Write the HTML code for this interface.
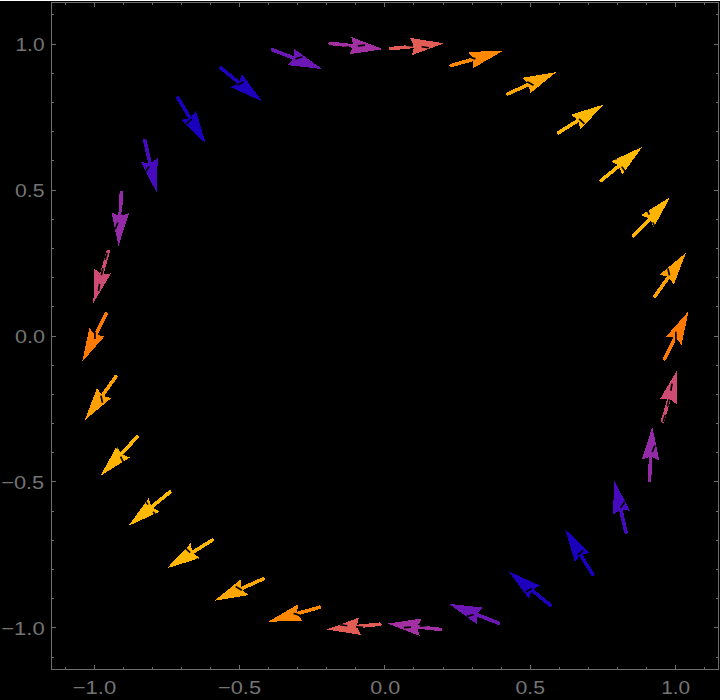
<!DOCTYPE html><html><head><meta charset="utf-8"><title>Vector plot</title><style>html,body{margin:0;padding:0;background:#000;font-family:"Liberation Sans",sans-serif;}svg{display:block}</style></head><body><svg width="720" height="700" viewBox="0 0 720 700">
<rect width="720" height="700" fill="#000"/>
<rect x="0" y="0" width="720" height="1" fill="#fff"/>
<g transform="translate(0.50,0.40)">
<g shape-rendering="crispEdges">
<line x1="664.22" y1="358.36" x2="675.18" y2="336.45" stroke="#ff7800" stroke-width="3.60" stroke-linecap="round"/>
<polygon points="688.10,310.60 680.99,344.27 674.73,337.34 665.43,336.49" fill="#ff7800"/>
<line x1="654.54" y1="295.67" x2="668.76" y2="275.72" stroke="#ffa000" stroke-width="3.60" stroke-linecap="round"/>
<polygon points="685.53,252.18 673.29,284.35 668.18,276.53 659.12,274.25" fill="#ffa000"/>
<line x1="633.11" y1="235.44" x2="649.94" y2="217.64" stroke="#ffb400" stroke-width="3.60" stroke-linecap="round"/>
<polygon points="669.79,196.63 653.24,226.81 649.25,218.36 640.60,214.86" fill="#ffb400"/>
<line x1="600.54" y1="180.22" x2="619.53" y2="164.74" stroke="#ffba00" stroke-width="3.60" stroke-linecap="round"/>
<polygon points="641.93,146.48 621.62,174.26 618.76,165.37 610.62,160.78" fill="#ffba00"/>
<line x1="558.04" y1="132.26" x2="578.86" y2="119.34" stroke="#ffb700" stroke-width="3.60" stroke-linecap="round"/>
<polygon points="603.41,104.10 579.71,129.05 578.01,119.87 570.53,114.27" fill="#ffb700"/>
<line x1="507.34" y1="93.43" x2="529.69" y2="83.41" stroke="#ffa600" stroke-width="3.60" stroke-linecap="round"/>
<polygon points="556.07,71.60 529.24,93.15 528.78,83.82 522.12,77.27" fill="#ffa600"/>
<line x1="450.59" y1="65.12" x2="474.19" y2="58.52" stroke="#ff8800" stroke-width="3.60" stroke-linecap="round"/>
<polygon points="502.02,50.74 472.29,68.08 473.22,58.79 467.61,51.33" fill="#ff8800"/>
<line x1="390.39" y1="48.18" x2="414.77" y2="45.75" stroke="#e25c56" stroke-width="3.60" stroke-linecap="round"/>
<polygon points="443.52,42.88 411.25,54.84 413.77,45.85 409.53,37.53" fill="#e25c56"/>
<line x1="329.69" y1="42.94" x2="354.04" y2="45.64" stroke="#a230a2" stroke-width="3.60" stroke-linecap="round"/>
<polygon points="382.76,48.83 348.71,53.81 353.04,45.53 350.62,36.51" fill="#a230a2"/>
<line x1="271.82" y1="49.34" x2="294.66" y2="58.21" stroke="#6c16b6" stroke-width="3.60" stroke-linecap="round"/>
<polygon points="321.61,68.66 287.42,64.73 293.73,57.84 293.71,48.50" fill="#6c16b6"/>
<line x1="220.24" y1="67.45" x2="239.26" y2="82.89" stroke="#1e00bc" stroke-width="3.60" stroke-linecap="round"/>
<polygon points="261.70,101.10 230.36,86.87 238.49,82.26 241.33,73.36" fill="#1e00bc"/>
<line x1="177.49" y1="97.74" x2="190.26" y2="118.65" stroke="#1a00bc" stroke-width="3.60" stroke-linecap="round"/>
<polygon points="205.32,143.31 180.54,119.43 189.74,117.80 195.39,110.36" fill="#1a00bc"/>
<line x1="144.36" y1="140.04" x2="149.77" y2="163.94" stroke="#470abe" stroke-width="3.60" stroke-linecap="round"/>
<polygon points="156.16,192.12 140.31,161.57 149.55,162.96 157.28,157.72" fill="#470abe"/>
<line x1="120.88" y1="192.31" x2="119.54" y2="216.77" stroke="#942aa8" stroke-width="3.60" stroke-linecap="round"/>
<polygon points="117.96,245.63 111.10,211.91 119.60,215.78 128.47,212.86" fill="#942aa8"/>
<line x1="107.65" y1="251.28" x2="100.89" y2="274.83" stroke="#ce4c74" stroke-width="3.60" stroke-linecap="round"/>
<polygon points="92.90,302.61 93.74,268.20 101.16,273.87 110.46,273.00" fill="#ce4c74"/>
<line x1="105.58" y1="313.64" x2="94.62" y2="335.55" stroke="#ff7800" stroke-width="3.60" stroke-linecap="round"/>
<polygon points="81.70,361.40 88.81,327.73 95.07,334.66 104.37,335.51" fill="#ff7800"/>
<line x1="115.26" y1="376.33" x2="101.04" y2="396.28" stroke="#ffa000" stroke-width="3.60" stroke-linecap="round"/>
<polygon points="84.27,419.82 96.51,387.65 101.62,395.47 110.68,397.75" fill="#ffa000"/>
<line x1="136.69" y1="436.56" x2="119.86" y2="454.36" stroke="#ffb400" stroke-width="3.60" stroke-linecap="round"/>
<polygon points="100.01,475.37 116.56,445.19 120.55,453.64 129.20,457.14" fill="#ffb400"/>
<line x1="169.26" y1="491.78" x2="150.27" y2="507.26" stroke="#ffba00" stroke-width="3.60" stroke-linecap="round"/>
<polygon points="127.87,525.52 148.18,497.74 151.04,506.63 159.18,511.22" fill="#ffba00"/>
<line x1="211.76" y1="539.74" x2="190.94" y2="552.66" stroke="#ffb700" stroke-width="3.60" stroke-linecap="round"/>
<polygon points="166.39,567.90 190.09,542.95 191.79,552.13 199.27,557.73" fill="#ffb700"/>
<line x1="262.46" y1="578.57" x2="240.11" y2="588.59" stroke="#ffa600" stroke-width="3.60" stroke-linecap="round"/>
<polygon points="213.73,600.40 240.56,578.85 241.02,588.18 247.68,594.73" fill="#ffa600"/>
<line x1="319.21" y1="606.88" x2="295.61" y2="613.48" stroke="#ff8800" stroke-width="3.60" stroke-linecap="round"/>
<polygon points="267.78,621.26 297.51,603.92 296.58,613.21 302.19,620.67" fill="#ff8800"/>
<line x1="379.41" y1="623.82" x2="355.03" y2="626.25" stroke="#e25c56" stroke-width="3.60" stroke-linecap="round"/>
<polygon points="326.28,629.12 358.55,617.16 356.03,626.15 360.27,634.47" fill="#e25c56"/>
<line x1="440.11" y1="629.06" x2="415.76" y2="626.36" stroke="#a230a2" stroke-width="3.60" stroke-linecap="round"/>
<polygon points="387.04,623.17 421.09,618.19 416.76,626.47 419.18,635.49" fill="#a230a2"/>
<line x1="497.98" y1="622.66" x2="475.14" y2="613.79" stroke="#6c16b6" stroke-width="3.60" stroke-linecap="round"/>
<polygon points="448.19,603.34 482.38,607.27 476.07,614.16 476.09,623.50" fill="#6c16b6"/>
<line x1="549.56" y1="604.55" x2="530.54" y2="589.11" stroke="#1e00bc" stroke-width="3.60" stroke-linecap="round"/>
<polygon points="508.10,570.90 539.44,585.13 531.31,589.74 528.47,598.64" fill="#1e00bc"/>
<line x1="592.31" y1="574.26" x2="579.54" y2="553.35" stroke="#1a00bc" stroke-width="3.60" stroke-linecap="round"/>
<polygon points="564.48,528.69 589.26,552.57 580.06,554.20 574.41,561.64" fill="#1a00bc"/>
<line x1="625.44" y1="531.96" x2="620.03" y2="508.06" stroke="#470abe" stroke-width="3.60" stroke-linecap="round"/>
<polygon points="613.64,479.88 629.49,510.43 620.25,509.04 612.52,514.28" fill="#470abe"/>
<line x1="648.92" y1="479.69" x2="650.26" y2="455.23" stroke="#942aa8" stroke-width="3.60" stroke-linecap="round"/>
<polygon points="651.84,426.37 658.70,460.09 650.20,456.22 641.33,459.14" fill="#942aa8"/>
<line x1="662.15" y1="420.72" x2="668.91" y2="397.17" stroke="#ce4c74" stroke-width="3.60" stroke-linecap="round"/>
<polygon points="676.90,369.39 676.06,403.80 668.64,398.13 659.34,399.00" fill="#ce4c74"/>
</g>
<path d="M675.39 338.70L675.36 331.42M675.10 322.65L674.67 315.38M673.93 306.64L673.11 299.40M671.88 290.72L670.67 283.54M668.97 274.94L667.37 267.83M665.20 259.34L663.21 252.33M660.58 243.97L658.21 237.09M655.13 228.88L652.39 222.14M648.86 214.12L645.75 207.53M641.80 199.72L638.33 193.32M633.95 185.73L630.14 179.54M625.35 172.20L621.21 166.23M616.03 159.17L611.57 153.43M606.01 146.67L601.23 141.19M595.31 134.74L590.25 129.53M583.98 123.43L578.64 118.50M572.05 112.75L566.45 108.13M559.56 102.75L553.71 98.44M546.53 93.45L540.46 89.48M533.02 84.89L526.74 81.26M519.06 77.09L512.58 73.81M504.69 70.07L498.05 67.15M489.96 63.86L483.17 61.31M474.91 58.47L467.99 56.29M459.59 53.91L452.56 52.13M444.05 50.21L436.93 48.82M428.32 47.38L421.14 46.38M412.47 45.42L405.24 44.82M396.53 44.33L389.28 44.13M380.55 44.13L373.30 44.33M364.59 44.81L357.36 45.41M348.69 46.38L341.51 47.37M332.90 48.81L325.78 50.21M317.27 52.12L310.24 53.91M301.84 56.29L294.92 58.46M286.66 61.30L279.87 63.85M271.78 67.14L265.14 70.06M257.24 73.79L250.77 77.08M243.09 81.24L236.81 84.88M229.37 89.46L223.29 93.44M216.11 98.42L210.27 102.73M203.37 108.11L197.77 112.73M191.18 118.48L185.84 123.40M179.57 129.51L174.51 134.72M168.59 141.16L163.81 146.65M158.25 153.41L153.79 159.15M148.61 166.20L144.46 172.18M139.67 179.51L135.86 185.71M131.48 193.29L128.02 199.69M124.06 207.51L120.95 214.09M117.42 222.11L114.68 228.85M111.60 237.06L109.23 243.94M106.60 252.30L104.61 259.31M102.44 267.80L100.83 274.91M99.14 283.51L97.92 290.69M96.70 299.37L95.88 306.61M95.13 315.35L94.71 322.62M94.44 331.38L94.41 338.67M94.62 347.44L95.00 354.71M95.69 363.45L96.46 370.70M97.63 379.39L98.79 386.58M100.44 395.19L101.99 402.30M104.10 410.81L106.05 417.83M108.62 426.21L110.95 433.11M113.97 441.34L116.67 448.10M120.15 456.14L123.21 462.74M127.12 470.58L130.54 477.01M134.87 484.62L138.64 490.84M143.38 498.21L147.49 504.21M152.62 511.30L157.05 517.07M162.56 523.87L167.30 529.38M173.18 535.86L178.21 541.11M184.43 547.26L189.74 552.22M196.29 558.01L201.87 562.67M208.72 568.09L214.54 572.44M221.69 577.47L227.74 581.49M235.15 586.13L241.40 589.80M249.06 594.02L255.51 597.35M263.38 601.13L270.00 604.10M278.07 607.44L284.84 610.04M293.08 612.94L299.99 615.15M308.37 617.59L315.39 619.42M323.89 621.39L331.00 622.83M339.60 624.33L346.77 625.37M355.44 626.39L362.66 627.04M371.37 627.58L378.62 627.83M387.34 627.89L394.59 627.74M403.31 627.31L410.54 626.76M419.22 625.86L426.41 624.91M435.02 623.52L442.15 622.18M450.68 620.32L457.72 618.58M466.13 616.26L473.07 614.13M481.34 611.34L488.15 608.84M496.26 605.60L502.92 602.72M510.84 599.04L517.34 595.80M525.04 591.69L531.35 588.09M538.82 583.56L544.92 579.62M552.13 574.68L558.01 570.41M564.94 565.08L570.57 560.50M577.20 554.79L582.57 549.90M588.88 543.84L593.97 538.66M599.94 532.26L604.75 526.81M610.35 520.08L614.85 514.37M620.08 507.35L624.26 501.40M629.10 494.10L632.95 487.93M637.38 480.37L640.89 474.00M644.90 466.21L648.05 459.65M651.63 451.65L654.42 444.93M657.55 436.74L659.97 429.87M662.65 421.53L664.69 414.54M666.91 406.06L668.56 398.96M670.32 390.37L671.58 383.20M672.86 374.53L673.73 367.29M674.53 358.56L675.00 351.29M675.33 342.53L675.40 335.24" stroke="#000" stroke-width="1.70" fill="none"/>
</g>
<g fill="#6e6e6e" shape-rendering="crispEdges"><rect x="51" y="2" width="668" height="1"/><rect x="51" y="669" width="668" height="1"/><rect x="51" y="2" width="1" height="668"/><rect x="718" y="2" width="1" height="668"/><rect x="65" y="667" width="1" height="2"/><rect x="65" y="3" width="1" height="2"/><rect x="52" y="657" width="2" height="1"/><rect x="716" y="657" width="2" height="1"/><rect x="94" y="665" width="1" height="4"/><rect x="94" y="3" width="1" height="4"/><rect x="52" y="627" width="4" height="1"/><rect x="714" y="627" width="4" height="1"/><rect x="123" y="667" width="1" height="2"/><rect x="123" y="3" width="1" height="2"/><rect x="52" y="598" width="2" height="1"/><rect x="716" y="598" width="2" height="1"/><rect x="152" y="667" width="1" height="2"/><rect x="152" y="3" width="1" height="2"/><rect x="52" y="569" width="2" height="1"/><rect x="716" y="569" width="2" height="1"/><rect x="181" y="667" width="1" height="2"/><rect x="181" y="3" width="1" height="2"/><rect x="52" y="540" width="2" height="1"/><rect x="716" y="540" width="2" height="1"/><rect x="210" y="667" width="1" height="2"/><rect x="210" y="3" width="1" height="2"/><rect x="52" y="511" width="2" height="1"/><rect x="716" y="511" width="2" height="1"/><rect x="239" y="665" width="1" height="4"/><rect x="239" y="3" width="1" height="4"/><rect x="52" y="481" width="4" height="1"/><rect x="714" y="481" width="4" height="1"/><rect x="268" y="667" width="1" height="2"/><rect x="268" y="3" width="1" height="2"/><rect x="52" y="452" width="2" height="1"/><rect x="716" y="452" width="2" height="1"/><rect x="297" y="667" width="1" height="2"/><rect x="297" y="3" width="1" height="2"/><rect x="52" y="423" width="2" height="1"/><rect x="716" y="423" width="2" height="1"/><rect x="326" y="667" width="1" height="2"/><rect x="326" y="3" width="1" height="2"/><rect x="52" y="394" width="2" height="1"/><rect x="716" y="394" width="2" height="1"/><rect x="355" y="667" width="1" height="2"/><rect x="355" y="3" width="1" height="2"/><rect x="52" y="365" width="2" height="1"/><rect x="716" y="365" width="2" height="1"/><rect x="384" y="665" width="1" height="4"/><rect x="384" y="3" width="1" height="4"/><rect x="52" y="336" width="4" height="1"/><rect x="714" y="336" width="4" height="1"/><rect x="413" y="667" width="1" height="2"/><rect x="413" y="3" width="1" height="2"/><rect x="52" y="306" width="2" height="1"/><rect x="716" y="306" width="2" height="1"/><rect x="443" y="667" width="1" height="2"/><rect x="443" y="3" width="1" height="2"/><rect x="52" y="277" width="2" height="1"/><rect x="716" y="277" width="2" height="1"/><rect x="472" y="667" width="1" height="2"/><rect x="472" y="3" width="1" height="2"/><rect x="52" y="248" width="2" height="1"/><rect x="716" y="248" width="2" height="1"/><rect x="501" y="667" width="1" height="2"/><rect x="501" y="3" width="1" height="2"/><rect x="52" y="219" width="2" height="1"/><rect x="716" y="219" width="2" height="1"/><rect x="530" y="665" width="1" height="4"/><rect x="530" y="3" width="1" height="4"/><rect x="52" y="190" width="4" height="1"/><rect x="714" y="190" width="4" height="1"/><rect x="559" y="667" width="1" height="2"/><rect x="559" y="3" width="1" height="2"/><rect x="52" y="160" width="2" height="1"/><rect x="716" y="160" width="2" height="1"/><rect x="588" y="667" width="1" height="2"/><rect x="588" y="3" width="1" height="2"/><rect x="52" y="131" width="2" height="1"/><rect x="716" y="131" width="2" height="1"/><rect x="617" y="667" width="1" height="2"/><rect x="617" y="3" width="1" height="2"/><rect x="52" y="102" width="2" height="1"/><rect x="716" y="102" width="2" height="1"/><rect x="646" y="667" width="1" height="2"/><rect x="646" y="3" width="1" height="2"/><rect x="52" y="73" width="2" height="1"/><rect x="716" y="73" width="2" height="1"/><rect x="675" y="665" width="1" height="4"/><rect x="675" y="3" width="1" height="4"/><rect x="52" y="44" width="4" height="1"/><rect x="714" y="44" width="4" height="1"/><rect x="704" y="667" width="1" height="2"/><rect x="704" y="3" width="1" height="2"/><rect x="52" y="14" width="2" height="1"/><rect x="716" y="14" width="2" height="1"/></g>
<g fill="#747474" font-family="&quot;Liberation Sans&quot;, sans-serif" font-size="19">
<text x="15.5" y="51.05" textLength="29" lengthAdjust="spacingAndGlyphs">1.0</text>
<text x="661.2" y="694" textLength="29" lengthAdjust="spacingAndGlyphs">1.0</text>
<text x="15" y="197" textLength="29.5" lengthAdjust="spacingAndGlyphs">0.5</text>
<text x="515.5" y="694" textLength="29.5" lengthAdjust="spacingAndGlyphs">0.5</text>
<text x="15" y="342.95" textLength="30" lengthAdjust="spacingAndGlyphs">0.0</text>
<text x="370.2" y="694" textLength="30" lengthAdjust="spacingAndGlyphs">0.0</text>
<text x="1.2" y="488.9" textLength="43" lengthAdjust="spacingAndGlyphs">−0.5</text>
<text x="218" y="694" textLength="43" lengthAdjust="spacingAndGlyphs">−0.5</text>
<text x="1.2" y="634.85" textLength="43.5" lengthAdjust="spacingAndGlyphs">−1.0</text>
<text x="72.7" y="694" textLength="43.5" lengthAdjust="spacingAndGlyphs">−1.0</text>
</g>
</svg></body></html>
